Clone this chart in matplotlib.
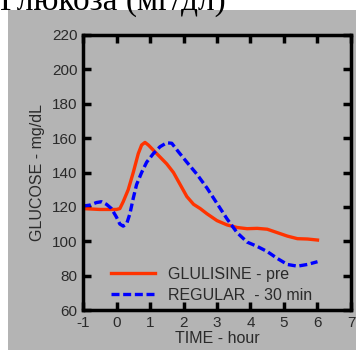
import matplotlib.pyplot as plt
from matplotlib.patches import Rectangle

# GLULISINE - pre
glu_t = [-1.0, -0.5, 0.0, 0.1, 0.2, 0.35, 0.5, 0.65, 0.75, 0.85, 0.95, 1.1, 1.3, 1.5, 1.7, 1.9,
         2.1, 2.3, 2.5, 2.7, 3.0, 3.3, 3.6, 3.9, 4.2, 4.5, 4.8, 5.1, 5.4, 5.7, 6.0]
glu_g = [119, 118.5, 118.5, 119, 123, 130, 140, 151, 156, 157.5, 156, 153, 149, 145, 140, 133,
         126, 121.5, 119, 116, 112, 109.5, 108, 107.3, 107.5, 107, 105, 103, 101.5, 101.3, 100.7]

# REGULAR - 30 min
reg_t = [-1.0, -0.8, -0.6, -0.45, -0.3, -0.15, 0.0, 0.1, 0.2, 0.3, 0.4, 0.5, 0.6, 0.75, 0.9,
         1.1, 1.3, 1.5, 1.65, 1.85, 2.1, 2.4, 2.7, 3.0, 3.3, 3.6, 3.9, 4.2, 4.5, 4.8, 5.1,
         5.4, 5.7, 6.0]
reg_g = [120.5, 121, 122.5, 123, 121.5, 119, 114, 110, 108.8, 110, 116, 125, 133, 140, 146,
         151, 155, 157.3, 157, 152, 146, 139, 131, 122, 113, 105, 99.5, 97, 94, 90, 86.5,
         85.5, 86.5, 88.1]

gray = '#b4b4b4'
txt = '#2a2a2a'
plt.rcParams['font.family'] = ['Liberation Sans', 'DejaVu Sans']
plt.rcParams['axes.unicode_minus'] = False

fig = plt.figure(figsize=(3.56, 3.5), dpi=100, facecolor='white')
fig.add_artist(Rectangle((8 / 356, 0), 1, 1 - 10 / 350, transform=fig.transFigure,
                         facecolor=gray, edgecolor='none', zorder=-5))
fig.text(0.0, 1.0 - 10 / 350, 'Глюкоза (мг/дл)', family=['Liberation Serif', 'DejaVu Serif'],
         fontsize=24, va='baseline', ha='left', color='black')

ax = fig.add_axes([83 / 356, 40 / 350, 268 / 356, 275 / 350])
ax.set_zorder(2)
ax.set_facecolor(gray)

ax.plot(glu_t, glu_g, color='#ff3300', lw=2.4, label='GLULISINE - pre')
ax.plot(reg_t, reg_g, color='#0000ff', lw=2.4, ls=(0, (2.4, 1.1)), label='REGULAR  - 30 min')

ax.set_xlim(-1, 7)
ax.set_ylim(60, 220)
ax.set_xticks(range(-1, 8))
ax.set_yticks(range(60, 221, 20))
for s in ax.spines.values():
    s.set_linewidth(2.5)
ax.tick_params(direction='in', length=6, width=2.5, top=True, right=True,
               labelsize=11, labelcolor=txt, pad=4)

ax.set_xlabel('TIME - hour', fontsize=11.5, color=txt, labelpad=1)
ax.set_ylabel('GLUCOSE - mg/dL', fontsize=11.5, color=txt, labelpad=5)

ax.legend(loc='lower left', bbox_to_anchor=(0.05, -0.025), frameon=False, fontsize=11.5,
          handlelength=2.8, handletextpad=0.8, labelspacing=0.35, labelcolor=txt)

fig.savefig('out.png', dpi=100, facecolor=fig.get_facecolor())
